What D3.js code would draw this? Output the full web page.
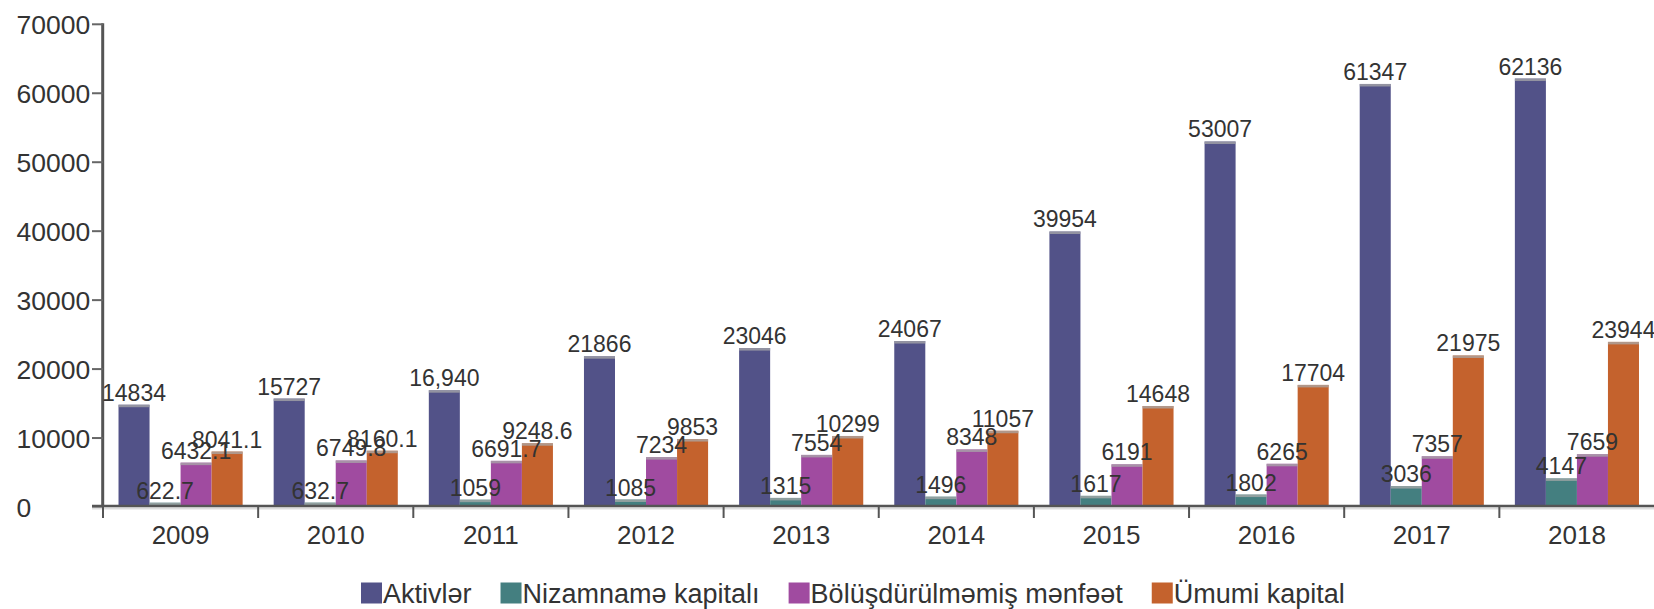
<!DOCTYPE html>
<html>
<head>
<meta charset="utf-8">
<script src="https://cdn.jsdelivr.net/npm/d3@7"></script>
<style>
  html, body { margin: 0; padding: 0; background: #fff; }
  svg { display: block; }
  text { font-family: "Liberation Sans", Arial, sans-serif; fill: #333; }
</style>
</head>
<body>
<svg id="chart" width="1654" height="609"></svg>
<script>
const years = ["2009","2010","2011","2012","2013","2014","2015","2016","2017","2018"];
const seriesNames = ["Aktivlər", "Nizamnamə kapitalı", "Bölüşdürülməmiş mənfəət", "Ümumi kapital"];
const aktivler = [14834, 15727, 16940, 21866, 23046, 24067, 39954, 53007, 61347, 62136];
const aktivlerLabels = ["14834","15727","16,940","21866","23046","24067","39954","53007","61347","62136"];
const nizamname = [622.7, 632.7, 1059, 1085, 1315, 1496, 1617, 1802, 3036, 4147];
const bolusdurulmemis = [6432.1, 6749.8, 6691.7, 7234, 7554, 8348, 6191, 6265, 7357, 7659];
const umumi = [8041.1, 8160.1, 9248.6, 9853, 10299, 11057, 14648, 17704, 21975, 23944];
const yTicks = [0, 10000, 20000, 30000, 40000, 50000, 60000, 70000];
const colors = ["#525288", "#447f80", "#a04ba0", "#c4622d"];

const seriesValues = [aktivler, nizamname, bolusdurulmemis, umumi];
const seriesLabels = [aktivlerLabels, nizamname.map(String), bolusdurulmemis.map(String), umumi.map(String)];

const svg = d3.select("#chart");
const x0 = d3.scaleBand().domain(years).range([103, 1654.5]).padding(0);
const bw = x0.bandwidth();
const x1 = d3.scaleBand().domain(seriesNames).range([0.1 * bw, 0.9 * bw]).padding(0);
const y = d3.scaleLinear().domain([0, 70000]).range([507, 24.3]);
const color = d3.scaleOrdinal().domain(seriesNames).range(colors);

const rows = [];
years.forEach((yr, i) => {
  seriesNames.forEach((s, j) => {
    rows.push({ year: yr, series: s, value: seriesValues[j][i], label: seriesLabels[j][i] });
  });
});

// bars
const g = svg.append("g");
g.selectAll("rect.bar").data(rows).enter().append("rect")
  .attr("class", "bar")
  .attr("x", d => x0(d.year) + x1(d.series))
  .attr("y", d => y(d.value))
  .attr("width", x1.bandwidth())
  .attr("height", d => y(0) - y(d.value))
  .attr("fill", d => color(d.series));
// light top edge
g.selectAll("rect.top").data(rows).enter().append("rect")
  .attr("x", d => x0(d.year) + x1(d.series))
  .attr("y", d => y(d.value))
  .attr("width", x1.bandwidth())
  .attr("height", 2.5)
  .attr("fill", "#aaa")
  .attr("opacity", 0.75);

// y axis
const yAxisG = svg.append("g");
yAxisG.append("line").attr("x1", 102.7).attr("x2", 102.7).attr("y1", y(70000) - 1).attr("y2", y(0))
  .attr("stroke", "#555").attr("stroke-width", 3);
yAxisG.selectAll("line.tick").data(yTicks).enter().append("line")
  .attr("x1", 92).attr("x2", 103).attr("y1", d => y(d)).attr("y2", d => y(d))
  .attr("stroke", "#666").attr("stroke-width", 2);
yAxisG.selectAll("text").data(yTicks).enter().append("text")
  .attr("x", 16.5).attr("y", d => y(d)).attr("dy", "0.36em")
  .style("font-size", "26.5px").text(d => d);

// x axis
const xAxisG = svg.append("g");
xAxisG.append("line").attr("x1", 92).attr("x2", 1654).attr("y1", 508.6).attr("y2", 508.6)
  .attr("stroke", "#ddd").attr("stroke-width", 2);
xAxisG.append("line").attr("x1", 92).attr("x2", 1654).attr("y1", y(0) - 1).attr("y2", y(0) - 1)
  .attr("stroke", "#555").attr("stroke-width", 2.6);
xAxisG.selectAll("line.tick").data(years).enter().append("line")
  .attr("x1", d => x0(d)).attr("x2", d => x0(d)).attr("y1", y(0)).attr("y2", 518)
  .attr("stroke", "#555").attr("stroke-width", 2);
xAxisG.selectAll("text").data(years).enter().append("text")
  .attr("x", d => x0(d) + bw / 2).attr("y", 544)
  .attr("text-anchor", "middle").style("font-size", "26px").text(d => d);

// value labels
svg.append("g").selectAll("text").data(rows).enter().append("text")
  .attr("x", d => x0(d.year) + x1(d.series) + x1.bandwidth() / 2)
  .attr("y", d => y(d.value) - 4)
  .attr("text-anchor", "middle")
  .style("font-size", "23px")
  .text(d => d.label);

// legend
const legend = svg.append("g");
let lx = 361;
seriesNames.forEach((s, i) => {
  legend.append("rect").attr("x", lx).attr("y", 582.5).attr("width", 21).attr("height", 21)
    .attr("fill", colors[i]);
  const t = legend.append("text").attr("x", lx + 22).attr("y", 603)
    .style("font-size", "27px").text(s);
  const w = t.node().getComputedTextLength();
  lx = lx + 22 + w + 29;
});
</script>
</body>
</html>
